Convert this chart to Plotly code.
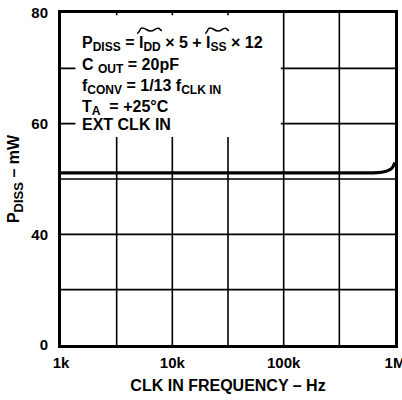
import plotly.graph_objects as go

# Data
freq_hz = [1e3, 1e4, 1e5, 5e5, 7e5, 8e5, 9e5, 9.5e5, 1e6]
p_diss_mw = [51.1, 51.1, 51.1, 51.1, 51.15, 51.3, 51.7, 52.1, 53.0]

x_tickvals = [1e3, 1e4, 1e5, 1e6]
x_ticktext = ["1k", "10k", "100k", "1M"]
# broken y scale: the bottom of the axis is labelled "0"
y_tickvals = [20, 40, 60, 80]
y_ticktext = ["0", "40", "60", "80"]

FONT = "Liberation Sans, Arial, sans-serif"
FS = 15
AFS = 16


def sub(t, size=12):
    return '<sub><span style="font-size:%dpx">%s</span></sub>' % (size, t)


fig = go.Figure()
fig.add_trace(go.Scatter(x=freq_hz, y=p_diss_mw, mode="lines",
                         line=dict(color="black", width=3.2, shape="spline", smoothing=0.6),
                         hoverinfo="skip", showlegend=False))

fig.update_layout(
    width=402, height=400,
    margin=dict(l=61, r=7, t=13, b=55),
    paper_bgcolor="white", plot_bgcolor="white",
    font=dict(family=FONT, color="black", size=FS),
    showlegend=False,
)

fig.update_xaxes(
    type="log", range=[3, 6], automargin=False,
    tickvals=x_tickvals, ticktext=["<b>%s</b>" % t for t in x_ticktext],
    tickfont=dict(size=FS), ticks="", ticklabelstandoff=2, ticklabeloverflow="allow",
    showgrid=False, zeroline=False,
    showline=True, linecolor="black", linewidth=3, mirror=True,
    title=dict(text="<b>CLK IN FREQUENCY – Hz</b>", font=dict(size=16), standoff=10),
)
fig.update_yaxes(
    range=[20, 80], automargin=False,
    tickvals=y_tickvals, ticktext=["<b>%s</b>" % t for t in y_ticktext],
    tickfont=dict(size=FS), ticks="", ticklabelstandoff=7,
    showgrid=False, zeroline=False,
    showline=True, linecolor="black", linewidth=3, mirror=True,
    title=dict(text="<b>P%s – mW</b>" % sub("DISS", 13), font=dict(size=16), standoff=8),
)

# grid lines: half-decade verticals and 10-unit horizontals
for k in range(1, 6):
    fig.add_shape(type="line", xref="x", yref="paper", x0=10 ** (3 + 0.5 * k), x1=10 ** (3 + 0.5 * k),
                  y0=0, y1=1, line=dict(color="black", width=1.6), layer="below")
for yv in [30, 40, 50, 60, 70]:
    fig.add_shape(type="line", xref="paper", yref="y", x0=0, x1=1, y0=yv, y1=yv,
                  line=dict(color="black", width=1.6), layer="below")

# white box behind the conditions text
fig.add_shape(type="rect", xref="x", yref="y", x0=10 ** 3.13, x1=10 ** 4.975, y0=57.6, y1=79.6,
              fillcolor="white", line=dict(width=0), layer="above")

lines = [
    ("P%s = I%s × 5 + I%s × 12" % (sub("DISS"), sub("DD"), sub("SS")), 44),
    ("C %s = 20pF" % sub("OUT"), 66),
    ("f%s = 1/13 f%s" % (sub("CONV"), sub("CLK IN")), 87),
    ("T%s  = +25°C" % sub("A"), 107.5),
    ("EXT CLK IN", 124),
]
for txt, py in lines:
    fig.add_annotation(text="<b>%s</b>" % txt, xref="paper", yref="paper",
                       x=(80 - 61) / 334, y=(345 - py) / 332, xanchor="left", yanchor="middle",
                       showarrow=False, font=dict(size=AFS, family=FONT), align="left")


def px(x, y):
    return (x - 61) / 334, (345 - y) / 332


def tilde(x0, x1, ytop):
    w = x1 - x0
    pts = [(x0, ytop + 5.5), (x0 + w * 0.2, ytop), (x0 + w * 0.55, ytop + 3),
           (x0 + w * 0.85, ytop + 0.3), (x1, ytop + 2.5)]
    p = "M %f %f " % px(*pts[0])
    for i in range(1, len(pts)):
        xa, ya = pts[i - 1]
        xb, yb = pts[i]
        c1 = px(xa + (xb - xa) / 2, ya)
        c2 = px(xa + (xb - xa) / 2, yb)
        e = px(xb, yb)
        p += "C %f %f, %f %f, %f %f " % (c1 + c2 + e)
    return p


fig.add_shape(type="path", xref="paper", yref="paper", path=tilde(137, 162, 28),
              line=dict(color="black", width=1.6), layer="above")
fig.add_shape(type="path", xref="paper", yref="paper", path=tilde(205, 229, 28),
              line=dict(color="black", width=1.6), layer="above")

fig.write_html("out.html", post_script="document.body.style.margin='0';",
               config={"displayModeBar": False})
